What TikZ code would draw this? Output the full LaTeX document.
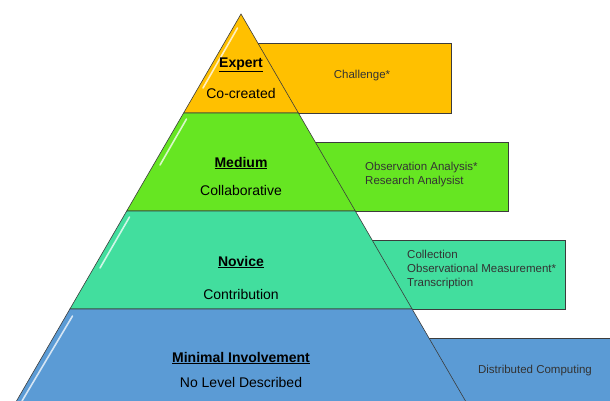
\documentclass[tikz,border=0pt]{standalone}
\usepackage{fontspec}
\setmainfont{Liberation Sans}
\usepackage{xcolor}
\definecolor{ExpertColor}{RGB}{255,192,0}
\definecolor{MediumColor}{RGB}{102,230,34}
\definecolor{NoviceColor}{RGB}{66,222,158}
\definecolor{MinimalColor}{RGB}{91,155,213}
\definecolor{EdgeColor}{RGB}{60,60,60}
\usetikzlibrary{positioning, calc}

\begin{document}
\begin{tikzpicture}[
    x=1pt, y=-1pt,
    tier/.style={draw=EdgeColor, line width=0.6pt},
    sidebox/.style={draw=EdgeColor, line width=0.6pt},
    shine/.style={white, opacity=0.75, line width=1.6pt, line cap=round},
    level/.style={font=\fontsize{14}{16}\selectfont\bfseries, inner sep=0pt},
    role/.style={font=\fontsize{14}{16}\selectfont, inner sep=0pt},
    task/.style={font=\fontsize{11.5}{14}\selectfont, text=black!80, align=left, inner sep=0pt},
]
\useasboundingbox (0,0) rectangle (610,401);
\clip (0,0) rectangle (610,401);

% Side boxes (behind the pyramid)
\draw[sidebox, fill=ExpertColor] (241,43) rectangle (451,113);
\draw[sidebox, fill=MediumColor] (300,142) rectangle (508,211);
\draw[sidebox, fill=NoviceColor] (356,240) rectangle (565,309);
\draw[sidebox, fill=MinimalColor] (412,338) rectangle (616,406);

% Pyramid tiers
\draw[tier, fill=ExpertColor] (241,14) -- (298.4,113) -- (183.6,113) -- cycle;
\draw[tier, fill=MediumColor] (183.6,113) -- (298.4,113) -- (355.3,211) -- (126.7,211) -- cycle;
\draw[tier, fill=NoviceColor] (126.7,211) -- (355.3,211) -- (412.1,309) -- (69.9,309) -- cycle;
\draw[tier, fill=MinimalColor] (69.9,309) -- (412.1,309) -- (468.4,406) -- (13.6,406) -- cycle;

% Gloss on the left edges
\draw[shine] (237.5,28) -- (203,88);
\draw[shine] (186.5,119) -- (160,165);
\draw[shine] (129.5,217) -- (100,268);
\draw[shine] (72.5,316) -- (22,401);

% Level labels
\node[level] (expert) at (241,65) {\underline{Expert}};
\node[role] (cocreated) at (241,93) {Co-created};
\node[level] (medium) at (241,163) {\underline{Medium}};
\node[role] (collab) at (241,190) {Collaborative};
\node[level] (novice) at (241,262) {\underline{Novice}};
\node[role] (contrib) at (241,294) {Contribution};
\node[level] (minimal) at (241,358) {\underline{Minimal Involvement}};
\node[role] (nolevel) at (241,382) {No Level Described};

% Task texts
\node[task] (challenge) at (362,76) {Challenge*};
\node[task, anchor=west] (obs) at (365,175) {Observation Analysis*\\Research Analysist};
\node[task, anchor=west] (collect) at (407,270) {Collection\\Observational Measurement*\\Transcription};
\node[task] (distrib) at (535,371) {Distributed Computing};

\end{tikzpicture}
\end{document}
